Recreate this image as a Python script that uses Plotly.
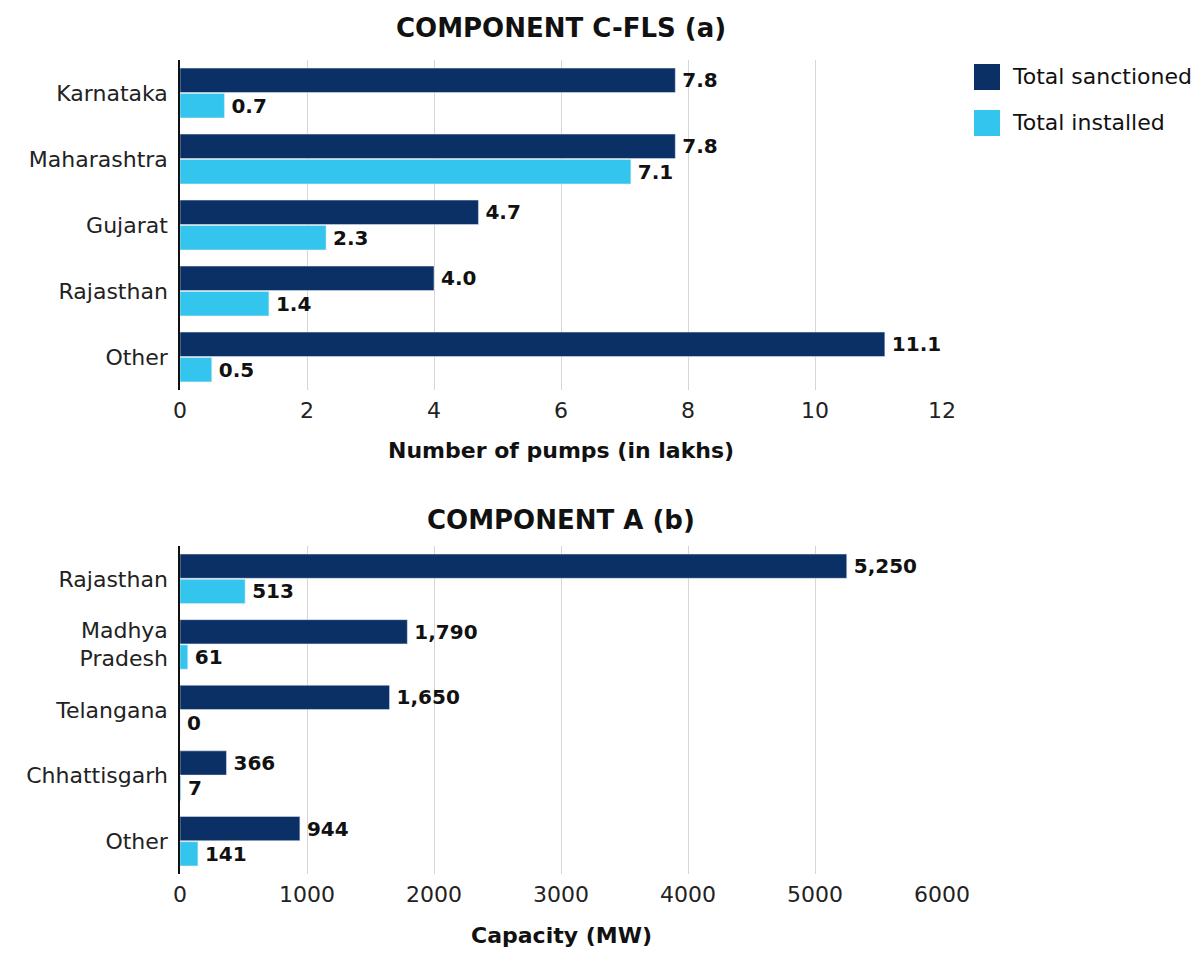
import plotly.graph_objects as go

# ---- data ----
states_a = ["Karnataka", "Maharashtra", "Gujarat", "Rajasthan", "Other"]
sanctioned_a = [7.8, 7.8, 4.7, 4.0, 11.1]
installed_a = [0.7, 7.1, 2.3, 1.4, 0.5]

states_b = ["Rajasthan", "Madhya<br>Pradesh", "Telangana", "Chhattisgarh", "Other"]
sanctioned_b = [5250, 1790, 1650, 366, 944]
installed_b = [513, 61, 0, 7, 141]

x_ticks_a = [0, 2, 4, 6, 8, 10, 12]
x_ticks_b = [0, 1000, 2000, 3000, 4000, 5000, 6000]

series_names = ["Total sanctioned", "Total installed"]
DARK = "#0b3065"
LIGHT = "#33c5ee"
FONT = "DejaVu Sans"

# page has an 8px body margin; work in reference-pixel coordinates
OFF = 8
W, H = 1204 - OFF, 953 - OFF
ML = 180 - OFF
MT = 60 - OFF
PLOT_RIGHT = 942 - OFF
PLOT_BOTTOM = 874 - OFF
MR = W - PLOT_RIGHT
MB = H - PLOT_BOTTOM
PW = W - ML - MR
PH = H - MT - MB


def px(xp):
    return (xp - OFF - ML) / PW


def py(yp):
    return (PLOT_BOTTOM - (yp - OFF)) / PH


top_dom = [py(390), 1.0]
bot_dom = [0.0, py(546)]

fig = go.Figure()
lab_font = dict(family=FONT, size=20, color="#111111")
SP = "\u2009"

fig.add_trace(go.Bar(y=states_a, x=sanctioned_a, orientation="h", marker_color=DARK,
                     name=series_names[0], texttemplate=SP + "<b>%{x:.1f}</b>",
                     textposition="outside", textfont=lab_font, cliponaxis=False,
                     xaxis="x", yaxis="y", showlegend=False))
fig.add_trace(go.Bar(y=states_a, x=installed_a, orientation="h", marker_color=LIGHT,
                     name=series_names[1], texttemplate=SP + "<b>%{x:.1f}</b>",
                     textposition="outside", textfont=lab_font, cliponaxis=False,
                     xaxis="x", yaxis="y", showlegend=False))
fig.add_trace(go.Bar(y=states_b, x=sanctioned_b, orientation="h", marker_color=DARK,
                     name=series_names[0], texttemplate=SP + "<b>%{x:,}</b>",
                     textposition="outside", textfont=lab_font, cliponaxis=False,
                     xaxis="x2", yaxis="y2", showlegend=False))
fig.add_trace(go.Bar(y=states_b, x=installed_b, orientation="h", marker_color=LIGHT,
                     name=series_names[1], texttemplate=SP + "<b>%{x:,}</b>",
                     textposition="outside", textfont=lab_font, cliponaxis=False,
                     xaxis="x2", yaxis="y2", showlegend=False))

tick_font = dict(family=FONT, size=22, color="#222222")
cat_font = dict(family=FONT, size=22, color="#222222")

xcommon = dict(showgrid=True, gridcolor="#d6d6d6", gridwidth=1, zeroline=False,
               showline=False, tickfont=tick_font, ticks="", ticklabelstandoff=5)
ycommon = dict(autorange="reversed", showgrid=False, zeroline=False, showline=True,
               linecolor="#111111", linewidth=1.5, tickfont=cat_font, ticks="",
               ticklabelstandoff=6)

fig.update_layout(
    width=W, height=H,
    margin=dict(l=ML, r=MR, t=MT, b=MB),
    paper_bgcolor="white", plot_bgcolor="white",
    barmode="group", bargap=0.23, bargroupgap=0.04,
    font=dict(family=FONT, color="#111111"),
    xaxis=dict(domain=[0, 1], anchor="y", range=[0, 12], tickvals=x_ticks_a, **xcommon),
    yaxis=dict(domain=top_dom, anchor="x", **ycommon),
    xaxis2=dict(domain=[0, 1], anchor="y2", range=[0, 6000], tickvals=x_ticks_b, **xcommon),
    yaxis2=dict(domain=bot_dom, anchor="x2", **ycommon),
    showlegend=False,
)

ann = [
    dict(text="<b>COMPONENT C-FLS (a)</b>", x=0.5, y=py(28), size=26),
    dict(text="<b>COMPONENT A (b)</b>", x=0.5, y=py(520), size=26),
    dict(text="<b>Number of pumps (in lakhs)</b>", x=0.5, y=py(451), size=22),
    dict(text="<b>Capacity (MW)</b>", x=0.5, y=py(936), size=22),
]
for a in ann:
    size = a.pop("size")
    fig.add_annotation(xref="paper", yref="paper", showarrow=False, xanchor="center",
                       yanchor="middle", font=dict(family=FONT, size=size, color="#111111"), **a)

# custom legend
for i, (name, col) in enumerate(zip(series_names, [DARK, LIGHT])):
    top = 64 + i * 46
    fig.add_shape(type="rect", xref="paper", yref="paper",
                  x0=px(974), x1=px(1000), y0=py(top + 26), y1=py(top),
                  fillcolor=col, line=dict(width=0))
    fig.add_annotation(xref="paper", yref="paper", x=px(1010), y=py(top + 13),
                       text=name, showarrow=False, xanchor="left", yanchor="middle",
                       font=dict(family=FONT, size=22, color="#111111"))

fig.write_html("out.html")
